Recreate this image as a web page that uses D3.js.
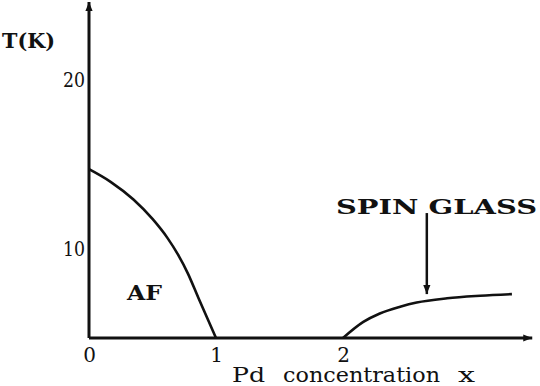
<!DOCTYPE html>
<html>
<head>
<meta charset="utf-8">
<script src="https://cdn.jsdelivr.net/npm/d3@7"></script>
<style>
  body { margin: 0; background: #fff; }
  svg { display: block; }
</style>
</head>
<body>
<div id="chart-area"></div>
<script>
// phase diagram, values
var afX = [0, 0.17, 0.35, 0.5, 0.62, 0.7, 0.78, 0.86, 0.93, 1.0];
var afT = [14.7, 13.95, 12.9, 11.75, 10.6, 9.65, 8.5, 7.1, 5.9, 4.7];
var sgX = [2.0, 2.16, 2.29, 2.45, 2.58, 2.82, 3.08, 3.33];
var sgT = [4.7, 5.65, 6.15, 6.55, 6.8, 7.05, 7.2, 7.3];
var xTicks = [0, 1, 2];
var yTicks = [10, 20];
var xTitle = ["Pd", "concentration", "x"];
var yTitle = "T(K)";

var width = 540, height = 386;
var baseT = 4.7;   // where the drawn x axis sits on the T scale
var serif = "DejaVu Serif";

var svg = d3.select("#chart-area")
    .append("svg")
        .attr("width", width)
        .attr("height", height);

var x = d3.scaleLinear()
    .domain([0, 2])
    .range([89, 343]);

var y = d3.scaleLinear()
    .domain([baseT, 24.6])
    .range([338, 2]);

// arrow heads
var defs = svg.append("defs");
defs.append("marker")
    .attr("id", "head")
    .attr("markerUnits", "userSpaceOnUse")
    .attr("viewBox", "0 -5 10 10")
    .attr("refX", 10)
    .attr("refY", 0)
    .attr("markerWidth", 11)
    .attr("markerHeight", 9)
    .attr("orient", "auto")
  .append("path")
    .attr("d", "M0,-4L10,0L0,4Z")
    .attr("fill", "#111");

// axis lines
svg.append("line")
    .attr("x1", x(0)).attr("x2", x(3.49))
    .attr("y1", y(baseT)).attr("y2", y(baseT))
    .attr("stroke", "#111").attr("stroke-width", 3)
    .attr("marker-end", "url(#head)");

svg.append("line")
    .attr("x1", x(0)).attr("x2", x(0))
    .attr("y1", y(baseT)).attr("y2", y(24.6))
    .attr("stroke", "#111").attr("stroke-width", 3)
    .attr("marker-end", "url(#head)");

// ticks
var xAxisCall = d3.axisBottom(x)
    .tickValues(xTicks)
    .tickSize(0)
    .tickPadding(10)
    .tickFormat(d3.format("d"));
var xg = svg.append("g")
    .attr("transform", "translate(0," + y(baseT) + ")")
    .call(xAxisCall);
xg.attr("font-family", serif).attr("font-size", 20);
xg.select(".domain").remove();
xg.selectAll("text").attr("fill", "#111");

var yAxisCall = d3.axisLeft(y)
    .tickValues(yTicks)
    .tickSize(0)
    .tickPadding(4)
    .tickFormat(d3.format("d"));
var yg = svg.append("g")
    .attr("transform", "translate(" + x(0) + ",0)")
    .call(yAxisCall);
yg.attr("font-family", serif).attr("font-size", 21);
yg.select(".domain").remove();
yg.selectAll("text")
    .attr("fill", "#111")
    .attr("textLength", 22)
    .attr("lengthAdjust", "spacingAndGlyphs");

// curves
var line = d3.line()
    .x(function(d){ return x(d[0]); })
    .y(function(d){ return y(d[1]); })
    .curve(d3.curveMonotoneX);

svg.append("path")
    .datum(afX.map(function(v, i){ return [v, afT[i]]; }))
    .attr("d", line)
    .attr("fill", "none")
    .attr("stroke", "#111")
    .attr("stroke-width", 2.6);

svg.append("path")
    .datum(sgX.map(function(v, i){ return [v, sgT[i]]; }))
    .attr("d", line)
    .attr("fill", "none")
    .attr("stroke", "#111")
    .attr("stroke-width", 2.6);

// spin glass pointer
svg.append("line")
    .attr("x1", x(2.66)).attr("x2", x(2.66))
    .attr("y1", y(12.1)).attr("y2", y(7.3))
    .attr("stroke", "#111").attr("stroke-width", 2.5)
    .attr("marker-end", "url(#head)");

// labels
function label(txt, px, py, size, len, bold){
    return svg.append("text")
        .attr("x", px).attr("y", py)
        .attr("font-family", serif)
        .attr("font-size", size)
        .attr("font-weight", bold ? "bold" : "normal")
        .attr("fill", "#111")
        .attr("textLength", len)
        .attr("lengthAdjust", "spacingAndGlyphs")
        .text(txt);
}

label("SPIN GLASS", 336, 214, 21, 201, true);
label("AF", 127, 300, 20, 35, true);
label(yTitle, 2, 48, 20, 53, true);

var titleX = [232, 283, 458];
var titleW = [33, 157, 17];
xTitle.forEach(function(d, i){
    label(d, titleX[i], 382, 21, titleW[i], false);
});
</script>
</body>
</html>
